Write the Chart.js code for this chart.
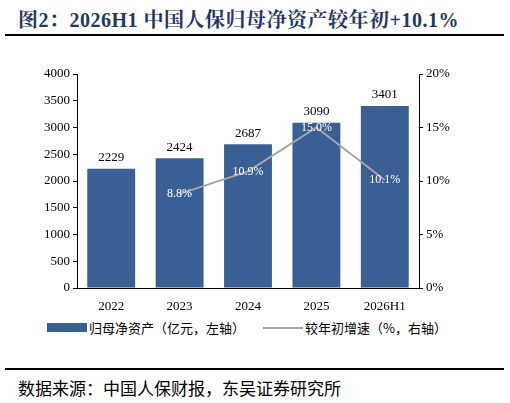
<!DOCTYPE html>
<html>
<head>
<meta charset="utf-8">
<script src="https://cdn.jsdelivr.net/npm/chart.js@4"></script>
<style>
body{margin:0;width:510px;height:403px;background:#fff;position:relative;overflow:hidden;font-family:"Liberation Serif","Noto Sans CJK SC",serif;}
#title{position:absolute;left:18px;top:4px;font-size:20px;font-weight:bold;color:#1F3864;font-family:"Liberation Serif","Noto Serif CJK SC","Noto Sans CJK SC",serif;letter-spacing:0.5px;}
.rule{position:absolute;left:5px;width:499px;height:2px;background:#000;}
#src{position:absolute;left:18px;top:375px;font-size:17px;color:#000;font-family:"Noto Sans CJK SC",sans-serif;}
#wrap{position:absolute;left:0;top:60px;width:510px;height:250px;}
#legend{position:absolute;top:318px;left:47px;font-size:13px;font-family:"Noto Sans CJK SC",sans-serif;color:#000;display:flex;align-items:center;white-space:nowrap;}
.lbar{display:inline-block;width:40px;height:9px;background:#3A5F94;margin-right:2px;}
.lline{display:inline-block;width:40px;height:2px;background:#A6A6A6;margin:0 2px 0 18px;}
</style>
</head>
<body>
<div id="title">图2：2026H1 中国人保归母净资产较年初+10.1%</div>
<div class="rule" style="top:34px"></div>
<div id="wrap"><canvas id="chart" width="510" height="250"></canvas></div>
<div id="legend"><span class="lbar"></span>归母净资产（亿元，左轴）<span class="lline"></span>较年初增速（%，右轴）</div>
<div class="rule" style="top:368px"></div>
<div id="src">数据来源：中国人保财报，东吴证券研究所</div>
<script>
const labels = ["2022","2023","2024","2025","2026H1"];
const netAssets = [2229,2424,2687,3090,3401];
const growth = [null,8.8,10.9,15.0,10.1];

const valueLabels = {
    id:"valueLabels",
    afterDatasetsDraw(chart){
        const ctx = chart.ctx;
        ctx.save();
        ctx.textAlign = "center";
        ctx.textBaseline = "middle";
        chart.getDatasetMeta(0).data.forEach((bar,i)=>{
            ctx.fillStyle = "#000";
            ctx.font = "13px 'Liberation Serif'";
            ctx.fillText(netAssets[i], bar.x, bar.y - 11);
        });
        chart.getDatasetMeta(1).data.forEach((pt,i)=>{
            if(growth[i] === null) return;
            ctx.fillStyle = "#fff";
            ctx.font = "12px 'Liberation Serif'";
            ctx.fillText(growth[i].toFixed(1) + "%", pt.x, pt.y);
        });
        ctx.restore();
    }
};

new Chart(document.getElementById("chart"),{
    type:"bar",
    data:{
        labels,
        datasets:[
        {
            label:"归母净资产（亿元，左轴）",
            data:netAssets,
            backgroundColor:"#3A5F94",
            barPercentage:0.7,
            categoryPercentage:1,
            yAxisID:"y",
            order:2
        },
        {
            type:"line",
            label:"较年初增速（%，右轴）",
            data:growth,
            borderColor:"#A6A6A6",
            borderWidth:2,
            pointRadius:0,
            yAxisID:"y1",
            order:1
        }
        ]
    },
    options:{
        responsive:false,
        animation:false,
        layout:{padding:{top:14,left:0,right:0,bottom:0}},
        plugins:{legend:{display:false},tooltip:{enabled:false}},
        scales:{
            x:{
                grid:{display:false},
                border:{color:"#000"},
                ticks:{color:"#000",maxRotation:0,font:{family:"Liberation Serif",size:13}},
                afterFit(s){ s.height = 22; }
            },
            y:{
                min:0,max:4000,
                ticks:{stepSize:500,autoSkip:false,color:"#000",font:{family:"Liberation Serif",size:13},callback:v=>String(v)},
                grid:{drawOnChartArea:false,tickLength:4,color:"#000"},
                border:{color:"#000"},
                afterFit(s){ s.width = 77; }
            },
            y1:{
                position:"right",
                min:0,max:20,
                ticks:{stepSize:5,autoSkip:false,color:"#000",font:{family:"Liberation Serif",size:13},callback:v=>v+"%"},
                grid:{drawOnChartArea:false,tickLength:4,color:"#000"},
                border:{color:"#000"},
                afterFit(s){ s.width = 91; }
            }
        }
    },
    plugins:[valueLabels]
});
</script>
</body>
</html>
